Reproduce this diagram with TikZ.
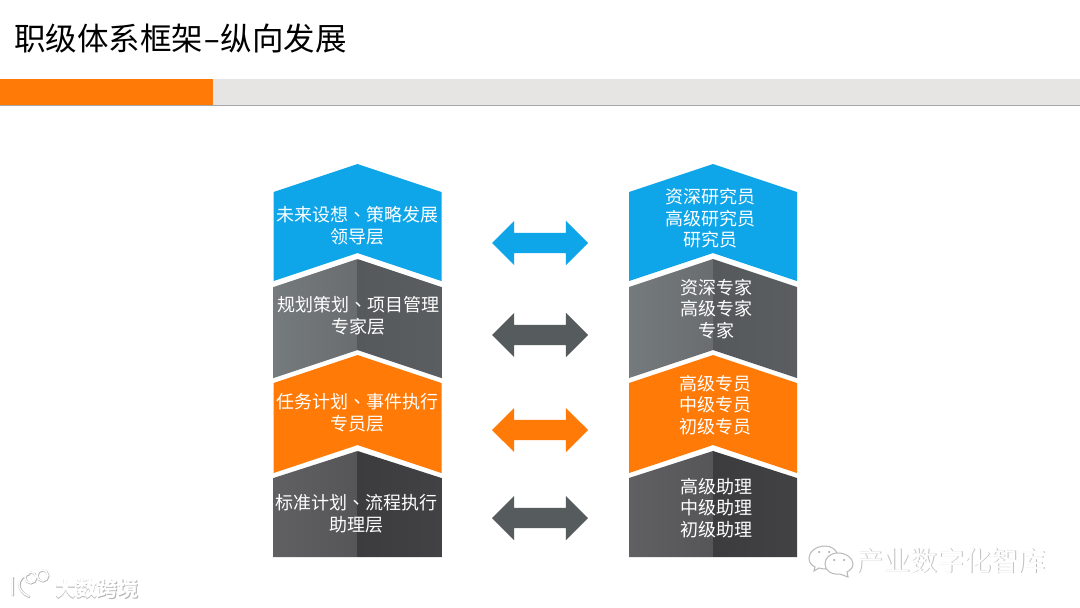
\documentclass[tikz,border=0pt]{standalone}
\usepackage{fontspec}
\usepackage{graphicx}
\setmainfont{Noto Sans CJK SC}
\newfontfamily\tcfont{Noto Sans CJK TC}
\usetikzlibrary{shapes.arrows}
\definecolor{cblue}{HTML}{0FA5E9}
\definecolor{corange}{HTML}{FF7A07}
\definecolor{cslate}{HTML}{565B5E}
\definecolor{cbar}{HTML}{E6E5E4}
\definecolor{gA}{HTML}{757A7C}
\definecolor{gB}{HTML}{696D6F}
\definecolor{gC}{HTML}{55595B}
\definecolor{gD}{HTML}{5A5E60}
\definecolor{dA}{HTML}{605F61}
\definecolor{dB}{HTML}{565557}
\definecolor{dC}{HTML}{3C3B3D}
\definecolor{dD}{HTML}{424143}
\newcommand{\dun}{{\tcfont 、}}
\newcommand{\shaft}{\rule{0pt}{20pt}}
\tikzset{
  tiertext/.style={text=white,align=center,inner sep=0pt,font=\fontsize{18}{21.6}\selectfont},
  linkarrow/.style={double arrow,double arrow tip angle=90,double arrow head extend=12pt,
    minimum width=44pt,minimum height=96pt,inner sep=0pt,draw=none},
  mark text/.style={inner sep=0pt,text=white,font=\fontsize{#1}{#1}\selectfont},
}
% centre x, apex, shoulder, lower edge, lower notch
\newcommand{\tierpath}[5]{(#1-84,#3) -- (#1,#2) -- (#1+84,#3) -- (#1+84,#4) -- (#1,#5) -- (#1-84,#4) -- cycle}
\newcommand{\tiertwo}[9]{%
  \begin{scope}
    \clip \tierpath{#1}{#2}{#3}{#4}{#5};
    \shade[left color=#6,right color=#7] (#1-84,#2) rectangle (#1,#4+2);
    \shade[left color=#8,right color=#9] (#1,#2) rectangle (#1+84,#4+2);
  \end{scope}}
\begin{document}
\begin{tikzpicture}[x=1pt,y=-1pt]
\useasboundingbox (0,0) rectangle (1080,608);
\fill[white] (0,0) rectangle (1080,608);

% title and bar
\node[anchor=west,inner sep=0pt,text=black,font=\fontsize{31.5}{31.5}\selectfont] (title) at (14,39) {职级体系框架\scalebox{1.6}[1]{-}纵向发展};
\fill[black!35] (0,104) rectangle (1080,106);
\fill[cbar] (213,79) rectangle (1080,104.5);
\fill[corange] (0,79) rectangle (213,104.5);

% left column
\fill[cblue] \tierpath{357.5}{164}{192}{281}{253};
\tiertwo{357.5}{259}{287}{378}{350}{gA}{gB}{gC}{gD}
\fill[corange] \tierpath{357.5}{355}{383}{473}{445};
\tiertwo{357.5}{451}{478}{557}{557}{dA}{dB}{dC}{dD}

% right column
\fill[cblue] \tierpath{713}{164}{192}{281}{253};
\tiertwo{713}{259}{287}{378}{350}{gA}{gB}{gC}{gD}
\fill[corange] \tierpath{713}{355}{383}{473}{445};
\tiertwo{713}{451}{478}{557}{557}{dA}{dB}{dC}{dD}

% left labels
\node[tiertext] (l1) at (357,226) {未来设想\dun 策略发展\\领导层};
\node[tiertext] (l2) at (358,315.5) {规划策划\dun 项目管理\\专家层};
\node[tiertext] (l3) at (357,412.5) {任务计划\dun 事件执行\\专员层};
\node[tiertext] (l4) at (356,514) {标准计划\dun 流程执行\\助理层};

% right labels
\node[tiertext] (r1) at (710,218.5) {资深研究员\\高级研究员\\研究员};
\node[tiertext] (r2) at (716,309) {资深专家\\高级专家\\专家};
\node[tiertext] (r3) at (715,405) {高级专员\\中级专员\\初级专员};
\node[tiertext] (r4) at (716,508) {高级助理\\中级助理\\初级助理};

% double arrows
\node[linkarrow,fill=cblue]   (a1) at (540,243) {\shaft};
\node[linkarrow,fill=cslate]  (a2) at (540,335) {\shaft};
\node[linkarrow,fill=corange] (a3) at (540,430) {\shaft};
\node[linkarrow,fill=cslate]  (a4) at (540,518) {\shaft};

% watermarks
\node[mark text=21,text=black!30,font=\fontsize{21}{21}\selectfont\bfseries] (w1s) at (98,589) {大数跨境};
\node[mark text=21,font=\fontsize{21}{21}\selectfont\bfseries] (w1) at (97,588) {大数跨境};
\draw[black!30,line width=2.4pt] (13,577) -- (13,596) (30,574) .. controls (16,578) and (16,592) .. (30,597);
\draw[black!30,line width=2pt] (31,578) circle (5.5) (43,576) circle (5.5);
\draw[white,line width=1.4pt] (12.5,576.5) -- (12.5,595.5) (29.5,573.5) .. controls (15.5,577.5) and (15.5,591.5) .. (29.5,596.5);
\draw[white,line width=1.4pt] (30.5,577.5) circle (5.5) (42.5,575.5) circle (5.5);
\node[mark text=27,text=black!25] (w2s) at (951.6,561.6) {产业数字化智库};
\node[mark text=27] (w2) at (951,561) {产业数字化智库};
\draw[black!28,line width=1pt,fill=white]
  (825,546) .. controls (816,546) and (809,552) .. (809,558) .. controls (809,562) and (811,565) .. (815,567) -- (814,571) -- (819,568) .. controls (825,570) and (830,569) .. (834,566) .. controls (842,560) and (838,546) .. (825,546) -- cycle;
\draw[black!28,line width=1pt,fill=white]
  (838,553) .. controls (830,553) and (825,558) .. (825,564) .. controls (825,571) and (832,575) .. (840,574) -- (848,577) -- (847,572) .. controls (851,570) and (853,567) .. (853,564) .. controls (853,558) and (846,553) .. (838,553) -- cycle;
\fill[black!40] (819,552) circle (1) (829,552) circle (1) (834,560) circle (1) (844,560) circle (1);
\end{tikzpicture}
\end{document}
